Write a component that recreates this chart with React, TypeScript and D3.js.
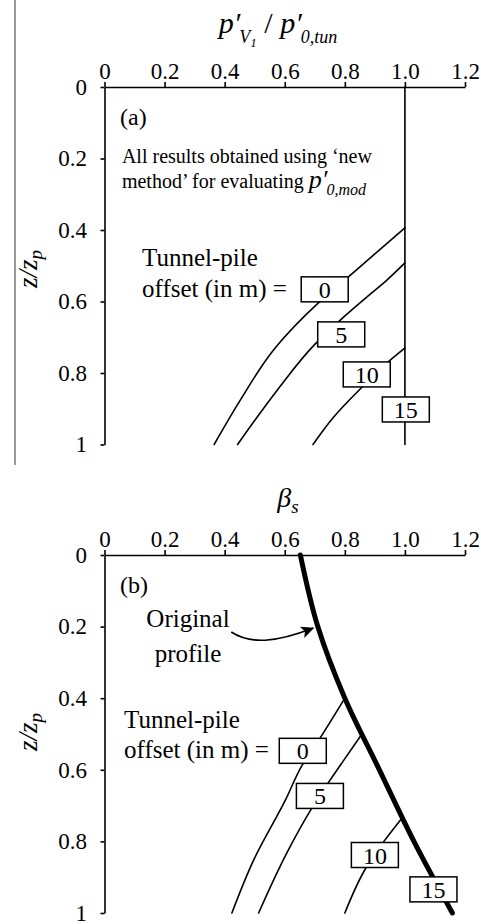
import React, { useEffect, useRef } from "react";
import * as d3 from "d3";

// axis ticks
const xTicks = [0, 0.2, 0.4, 0.6, 0.8, 1.0, 1.2];
const xTickLabels = ["0", "0.2", "0.4", "0.6", "0.8", "1.0", "1.2"];
const zTicks = [0, 0.2, 0.4, 0.6, 0.8, 1];
const zTickLabels = ["0", "0.2", "0.4", "0.6", "0.8", "1"];

const offsets = ["0", "5", "10", "15"];

// panel (a): p'V1 / p'0,tun vs z/zp, one curve per tunnel-pile offset
const aZ = [
  [0.394, 0.531, 0.604, 0.73, 0.876, 1.0],
  [0.492, 0.54, 0.587, 0.652, 0.72, 0.848, 1.0],
  [0.73, 0.763, 0.84, 0.923, 1.0],
  [0, 1.0],
];
const aX = [
  [1.0, 0.812, 0.712, 0.568, 0.452, 0.365],
  [1.0, 0.94, 0.874, 0.785, 0.7, 0.575, 0.443],
  [1.0, 0.952, 0.857, 0.763, 0.694],
  [1.0, 1.0],
];
const aBoxX = [0.733, 0.788, 0.873, 1.003];
const aBoxZ = [0.566, 0.692, 0.804, 0.902];

// panel (b): beta_s vs z/zp
const origZ = [0, 0.2, 0.4, 0.6, 0.8, 1.0];
const origX = [0.652, 0.71, 0.8, 0.915, 1.03, 1.158];
const bZ = [
  [0.4, 0.511, 0.587, 0.685, 0.853, 1.0],
  [0.5, 0.575, 0.707, 0.832, 1.0],
  [0.735, 0.8, 0.87, 1.0],
];
const bX = [
  [0.8, 0.718, 0.658, 0.602, 0.496, 0.424],
  [0.857, 0.795, 0.69, 0.607, 0.513],
  [0.99, 0.93, 0.873, 0.8],
];
const bBoxX = [0.66, 0.717, 0.9, 1.095];
const bBoxZ = [0.547, 0.673, 0.838, 0.934];

const FONT = "'Liberation Serif', 'Times New Roman', serif";

const W = 481;
const H = 924;

const App = () => {
  const svgRef = useRef(null);

  useEffect(() => {
    const svg = d3.select(svgRef.current);
    svg.selectAll("*").remove();

    const x = d3.scaleLinear().domain([0, 1.2]).range([104.5, 465]);
    const yA = d3.scaleLinear().domain([0, 1]).range([87, 444.5]);
    const yB = d3.scaleLinear().domain([0, 1]).range([555, 913]);

    svg
      .append("defs")
      .append("marker")
      .attr("id", "arrowhead")
      .attr("markerUnits", "userSpaceOnUse")
      .attr("markerWidth", 14)
      .attr("markerHeight", 12)
      .attr("refX", 12)
      .attr("refY", 6)
      .attr("orient", "auto")
      .append("path")
      .attr("d", "M0,0 L13,6 L0,12 L3,6 Z")
      .attr("fill", "#000");

    // stray frame edge on the left of panel (a)
    svg
      .append("line")
      .attr("x1", 15)
      .attr("x2", 15)
      .attr("y1", 0)
      .attr("y2", 465)
      .attr("stroke", "#555")
      .attr("stroke-width", 1.2);

    const drawAxes = (y) => {
      const gx = svg
        .append("g")
        .attr("transform", `translate(0,${y(0)})`)
        .call(
          d3
            .axisTop(x)
            .tickValues(xTicks)
            .tickFormat((d, i) => xTickLabels[i])
            .tickSize(5)
            .tickSizeOuter(0)
            .tickPadding(3)
        );
      const gy = svg
        .append("g")
        .attr("transform", `translate(${x(0)},0)`)
        .call(
          d3
            .axisLeft(y)
            .tickValues(zTicks)
            .tickFormat((d, i) => zTickLabels[i])
            .tickSize(4)
            .tickSizeOuter(0)
            .tickPadding(13.5)
        );
      [gx, gy].forEach((g) => {
        g.attr("font-family", FONT).attr("font-size", 23);
        g.select(".domain").attr("stroke-width", 1.6);
        g.selectAll(".tick line").attr("stroke-width", 1.6);
        g.selectAll(".tick text").attr("fill", "#000");
      });
    };

    const zLabel = (cy) => {
      const t = svg
        .append("text")
        .attr("transform", `translate(37,${cy}) rotate(-90)`)
        .attr("text-anchor", "middle")
        .attr("font-family", FONT)
        .attr("font-style", "italic")
        .attr("font-size", 27);
      t.append("tspan").text("z/z");
      t.append("tspan").attr("font-size", 19).attr("dy", 5).text("p");
    };

    const line = d3
      .line()
      .x((d) => x(d[0]))
      .y((d) => d[1])
      .curve(d3.curveMonotoneY);

    const drawCurve = (xs, zs, y, width) => {
      svg
        .append("path")
        .attr("d", line(xs.map((v, i) => [v, y(zs[i])])))
        .attr("fill", "none")
        .attr("stroke", "#000")
        .attr("stroke-width", width)
        .attr("stroke-linecap", "round");
    };

    const drawBoxes = (bx, bz, y) => {
      offsets.forEach((lab, i) => {
        const cx = x(bx[i]);
        const cy = y(bz[i]);
        svg
          .append("rect")
          .attr("x", cx - 23.5)
          .attr("y", cy - 12.5)
          .attr("width", 47)
          .attr("height", 25)
          .attr("fill", "#fff")
          .attr("stroke", "#000")
          .attr("stroke-width", 1.5);
        svg
          .append("text")
          .attr("x", cx)
          .attr("y", cy + 8.5)
          .attr("text-anchor", "middle")
          .attr("font-family", FONT)
          .attr("font-size", 24)
          .text(lab);
      });
    };

    const text = (tx, ty, str, size, anchor = "start") =>
      svg
        .append("text")
        .attr("x", tx)
        .attr("y", ty)
        .attr("text-anchor", anchor)
        .attr("font-family", FONT)
        .attr("font-size", size)
        .text(str);

    // ---------- panel (a)
    drawAxes(yA);
    zLabel(269);
    aZ.forEach((zs, i) => drawCurve(aX[i], zs, yA, 1.6));
    drawBoxes(aBoxX, aBoxZ, yA);

    const tA = svg
      .append("text")
      .attr("x", 278)
      .attr("y", 33)
      .attr("text-anchor", "middle")
      .attr("font-family", FONT)
      .attr("font-size", 30);
    tA.append("tspan").attr("font-style", "italic").text("p′");
    tA.append("tspan").attr("font-style", "italic").attr("font-size", 18).attr("dy", 10).attr("dx", -1).text("V");
    tA.append("tspan").attr("font-style", "italic").attr("font-size", 13).attr("dy", 4).text("1");
    tA.append("tspan").attr("dy", -14).text(" / ");
    tA.append("tspan").attr("font-style", "italic").text("p′");
    tA.append("tspan").attr("font-style", "italic").attr("font-size", 18).attr("dy", 10).attr("dx", -1).text("0,tun");

    text(x(0.052), yA(0.106), "(a)", 24);
    text(x(0.058), yA(0.213), "All results obtained using ‘new", 20);
    const mth = text(x(0.058), yA(0.283), "method’ for evaluating ", 20);
    mth.append("tspan").attr("font-style", "italic").attr("font-size", 26).text("p′");
    mth.append("tspan").attr("font-style", "italic").attr("font-size", 16).attr("dy", 7).attr("dx", -1).text("0,mod");
    text(x(0.125), yA(0.5), "Tunnel-pile", 25);
    text(x(0.125), yA(0.587), "offset (in m) =", 25);

    // ---------- panel (b)
    drawAxes(yB);
    zLabel(732);
    bZ.forEach((zs, i) => drawCurve(bX[i], zs, yB, 1.6));
    drawCurve(origX, origZ, yB, 5);
    drawBoxes(bBoxX, bBoxZ, yB);

    const tB = svg
      .append("text")
      .attr("x", 288)
      .attr("y", 507)
      .attr("text-anchor", "middle")
      .attr("font-family", FONT)
      .attr("font-style", "italic")
      .attr("font-size", 28);
    tB.append("tspan").text("β");
    tB.append("tspan").attr("font-size", 19).attr("dy", 6).text("s");

    text(x(0.052), yB(0.106), "(b)", 24);
    text(x(0.278), yB(0.2), "Original", 25, "middle");
    text(x(0.278), yB(0.3), "profile", 25, "middle");
    text(x(0.065), yB(0.483), "Tunnel-pile", 25);
    text(x(0.065), yB(0.567), "offset (in m) =", 25);

    const ap = d3.path();
    ap.moveTo(x(0.422), yB(0.215));
    ap.bezierCurveTo(x(0.485), yB(0.25), x(0.57), yB(0.245), x(0.695), yB(0.204));
    svg
      .append("path")
      .attr("d", ap.toString())
      .attr("fill", "none")
      .attr("stroke", "#000")
      .attr("stroke-width", 1.6)
      .attr("marker-end", "url(#arrowhead)");
  }, []);

  return (
    <svg
      ref={svgRef}
      width={W}
      height={H}
      style={{ position: "absolute", left: 0, top: 0, background: "#fff" }}
    />
  );
};

export default App;
